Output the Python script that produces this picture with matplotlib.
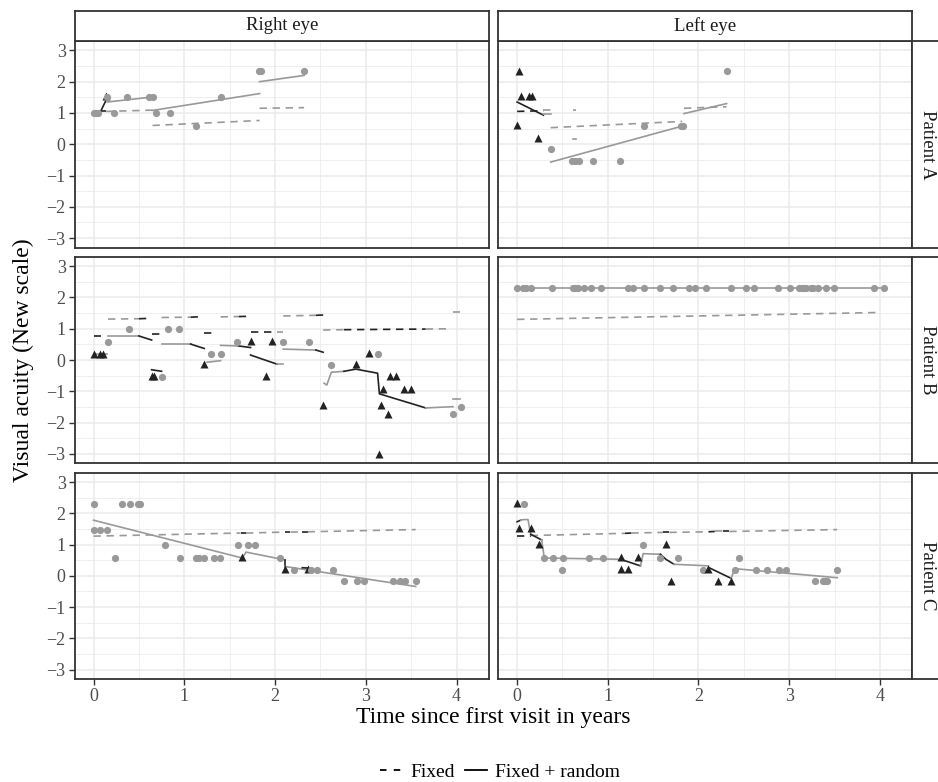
import matplotlib.pyplot as plt
from matplotlib.lines import Line2D

plt.rcParams['font.family'] = ['Liberation Serif', 'DejaVu Serif']

# ---- data ----
# points: (years since first visit, visual acuity, kind)  c = circle (grey), t = triangle (black)
pts_a_right = [(0.00, 1.0, 'c'), (0.03, 1.0, 'c'), (0.05, 1.0, 'c'), (0.14, 1.55, 't'), (0.15, 1.5, 'c'),
               (0.23, 1.0, 'c'), (0.37, 1.5, 'c'), (0.61, 1.5, 'c'), (0.65, 1.5, 'c'), (0.69, 1.0, 'c'),
               (0.84, 1.0, 'c'), (1.13, 0.58, 'c'), (1.40, 1.5, 'c'), (1.82, 2.33, 'c'), (1.84, 2.33, 'c'),
               (2.32, 2.33, 'c')]
pts_a_left = [(0.00, 0.6, 't'), (0.02, 2.33, 't'), (0.04, 1.55, 't'), (0.13, 1.55, 't'), (0.16, 1.55, 't'),
              (0.23, 0.2, 't'), (0.37, -0.15, 'c'), (0.61, -0.55, 'c'), (0.64, -0.55, 'c'), (0.68, -0.55, 'c'),
              (0.84, -0.55, 'c'), (1.13, -0.55, 'c'), (1.40, 0.58, 'c'), (1.81, 0.58, 'c'), (1.83, 0.58, 'c'),
              (2.31, 2.33, 'c')]
pts_b_right = [(0.00, 0.2, 't'), (0.07, 0.2, 't'), (0.10, 0.2, 't'), (0.16, 0.58, 'c'), (0.39, 1.0, 'c'),
               (0.64, -0.51, 't'), (0.67, -0.51, 't'), (0.75, -0.53, 'c'), (0.82, 1.0, 'c'), (0.94, 1.0, 'c'),
               (1.22, -0.13, 't'), (1.29, 0.2, 'c'), (1.40, 0.2, 'c'), (1.58, 0.58, 'c'), (1.73, 0.6, 't'),
               (1.90, -0.51, 't'), (1.97, 0.6, 't'), (2.09, 0.58, 'c'), (2.37, 0.58, 'c'), (2.53, -1.45, 't'),
               (2.62, -0.15, 'c'), (2.89, -0.13, 't'), (3.03, 0.23, 't'), (3.13, 0.2, 'c'), (3.15, -3.0, 't'),
               (3.17, -1.45, 't'), (3.19, -0.92, 't'), (3.25, -1.72, 't'), (3.27, -0.51, 't'), (3.33, -0.51, 't'),
               (3.42, -0.92, 't'), (3.50, -0.92, 't'), (3.96, -1.74, 'c'), (4.05, -1.49, 'c')]
b_left_t = [0.00, 0.07, 0.10, 0.15, 0.38, 0.62, 0.64, 0.67, 0.74, 0.82, 0.93, 1.22, 1.28, 1.40, 1.57, 1.72,
            1.89, 1.96, 2.08, 2.36, 2.52, 2.61, 2.88, 3.01, 3.11, 3.14, 3.16, 3.19, 3.24, 3.26, 3.32, 3.41,
            3.49, 3.94, 4.04]
pts_b_left = [(t, 2.3, 'c') for t in b_left_t]
pts_c_right = [(0.00, 2.29, 'c'), (0.01, 1.48, 'c'), (0.07, 1.48, 'c'), (0.15, 1.48, 'c'), (0.24, 0.57, 'c'),
               (0.31, 2.29, 'c'), (0.40, 2.29, 'c'), (0.49, 2.29, 'c'), (0.51, 2.29, 'c'), (0.79, 0.99, 'c'),
               (0.95, 0.57, 'c'), (1.13, 0.57, 'c'), (1.16, 0.57, 'c'), (1.22, 0.57, 'c'), (1.33, 0.57, 'c'),
               (1.39, 0.57, 'c'), (1.59, 0.99, 'c'), (1.64, 0.59, 't'), (1.70, 0.99, 'c'), (1.78, 0.99, 'c'),
               (2.06, 0.57, 'c'), (2.11, 0.23, 't'), (2.21, 0.19, 'c'), (2.36, 0.23, 't'), (2.40, 0.19, 'c'),
               (2.46, 0.19, 'c'), (2.64, 0.19, 'c'), (2.76, -0.16, 'c'), (2.90, -0.16, 'c'), (2.98, -0.16, 'c'),
               (3.30, -0.16, 'c'), (3.38, -0.16, 'c'), (3.43, -0.16, 'c'), (3.55, -0.16, 'c')]
pts_c_left = [(0.00, 2.33, 't'), (0.02, 1.54, 't'), (0.08, 2.29, 'c'), (0.15, 1.54, 't'), (0.24, 1.02, 't'),
              (0.30, 0.57, 'c'), (0.40, 0.57, 'c'), (0.49, 0.19, 'c'), (0.51, 0.57, 'c'), (0.79, 0.57, 'c'),
              (0.95, 0.57, 'c'), (1.14, 0.59, 't'), (1.15, 0.21, 't'), (1.22, 0.21, 't'), (1.33, 0.59, 't'),
              (1.39, 0.99, 'c'), (1.58, 0.57, 'c'), (1.64, 1.02, 't'), (1.70, -0.15, 't'), (1.77, 0.57, 'c'),
              (2.05, 0.19, 'c'), (2.11, 0.23, 't'), (2.21, -0.15, 't'), (2.36, -0.15, 't'), (2.40, 0.19, 'c'),
              (2.45, 0.57, 'c'), (2.63, 0.19, 'c'), (2.76, 0.19, 'c'), (2.89, 0.19, 'c'), (2.97, 0.19, 'c'),
              (3.29, -0.15, 'c'), (3.37, -0.15, 'c'), (3.40, -0.15, 'c'), (3.42, -0.15, 'c'), (3.53, 0.19, 'c')]

# fitted pieces: (colour group, times, acuity)  g = grey, k = black
fix_a_right = [('k', [0.08, 0.14], [1.05, 1.05]), ('g', [0.14, 0.65], [1.05, 1.09]),
               ('g', [0.65, 1.83], [0.60, 0.76]), ('g', [1.83, 2.32], [1.15, 1.17])]
fr_a_right = [('k', [0.08, 0.14], [1.06, 1.42]), ('g', [0.15, 0.65], [1.35, 1.51]),
              ('g', [0.65, 1.83], [1.08, 1.62]), ('g', [1.83, 2.32], [2.00, 2.20])]
fix_a_left = [('k', [0.00, 0.29], [1.05, 1.07]), ('g', [0.29, 0.37], [1.08, 1.08]),
              ('g', [0.37, 1.82], [0.53, 0.73]), ('g', [0.62, 0.65], [1.09, 1.09]),
              ('g', [1.84, 2.31], [1.15, 1.20])]
fr_a_left = [('k', [0.00, 0.29], [1.35, 0.93]), ('g', [0.29, 0.37], [0.98, 0.98]),
             ('g', [0.37, 1.82], [-0.57, 0.58]), ('g', [0.62, 0.65], [0.16, 0.16]),
             ('g', [1.84, 2.31], [0.98, 1.30])]
fix_b_right = [('k', [0.00, 0.08], [0.77, 0.77]), ('g', [0.16, 0.50], [1.31, 1.32]),
               ('k', [0.50, 0.59], [1.32, 1.33]), ('k', [0.64, 0.75], [0.82, 0.82]),
               ('g', [0.75, 1.07], [1.36, 1.37]), ('k', [1.07, 1.15], [1.37, 1.38]),
               ('k', [1.22, 1.33], [0.86, 0.86]), ('g', [1.40, 1.60], [1.38, 1.39]),
               ('k', [1.60, 1.73], [1.39, 1.40]), ('k', [1.73, 2.02], [0.91, 0.91]),
               ('g', [2.02, 2.09], [0.91, 0.91]), ('g', [2.09, 2.45], [1.41, 1.43]),
               ('k', [2.45, 2.53], [1.43, 1.44]), ('g', [2.53, 2.76], [0.96, 0.97]),
               ('k', [2.76, 3.66], [0.97, 0.99]), ('g', [3.66, 3.90], [0.99, 1.00]),
               ('g', [3.96, 4.04], [1.54, 1.54])]
fr_b_right = [('g', [0.00, 0.15], [0.19, 0.19]), ('g', [0.16, 0.50], [0.77, 0.77]),
              ('k', [0.50, 0.64], [0.77, 0.64]), ('k', [0.64, 0.75], [-0.31, -0.36]),
              ('g', [0.75, 1.07], [0.51, 0.51]), ('k', [1.07, 1.22], [0.51, 0.37]),
              ('g', [1.25, 1.40], [-0.07, -0.02]), ('g', [1.40, 1.60], [0.47, 0.45]),
              ('k', [1.60, 1.73], [0.45, 0.40]), ('k', [1.73, 2.02], [0.16, -0.13]),
              ('g', [2.02, 2.09], [-0.13, -0.13]), ('g', [2.09, 2.45], [0.35, 0.32]),
              ('k', [2.45, 2.53], [0.32, 0.25]),
              ('g', [2.54, 2.57, 2.62, 2.76], [-0.74, -0.80, -0.39, -0.36]),
              ('k', [2.76, 2.89, 3.13, 3.15, 3.66], [-0.36, -0.29, -0.42, -1.08, -1.53]),
              ('g', [3.66, 3.96], [-1.53, -1.49]), ('g', [3.96, 4.04], [-1.25, -1.25])]
fix_b_left = [('g', [0.00, 4.00], [1.30, 1.52])]
fr_b_left = [('g', [0.00, 4.04], [2.30, 2.30])]
fix_c_right = [('g', [0.00, 1.62], [1.27, 1.37]), ('k', [1.62, 1.68], [1.37, 1.37]),
               ('g', [1.68, 2.11], [1.37, 1.40]), ('k', [2.11, 2.17], [1.40, 1.40]),
               ('g', [2.17, 2.30], [1.40, 1.41]), ('k', [2.30, 2.36], [1.41, 1.41]),
               ('g', [2.36, 3.55], [1.41, 1.48])]
fr_c_right = [('g', [0.00, 1.64], [1.78, 0.57]), ('g', [1.64, 1.68, 2.11], [0.57, 0.76, 0.51]),
              ('k', [2.11, 2.11], [0.51, 0.28]), ('g', [2.11, 3.55], [0.30, -0.34]),
              ('k', [2.30, 2.36], [0.26, 0.25])]
fix_c_left = [('k', [0.00, 0.15], [1.29, 1.29]), ('g', [0.15, 1.19], [1.29, 1.36]),
              ('k', [1.19, 1.26], [1.36, 1.37]), ('g', [1.26, 1.61], [1.37, 1.39]),
              ('k', [1.61, 1.68], [1.39, 1.39]), ('g', [1.68, 2.11], [1.39, 1.41]),
              ('k', [2.11, 2.18], [1.41, 1.42]), ('g', [2.18, 2.27], [1.42, 1.42]),
              ('k', [2.27, 2.34], [1.42, 1.42]), ('g', [2.34, 3.53], [1.42, 1.48])]
fr_c_left = [('k', [0.00, 0.04], [1.73, 1.78]), ('g', [0.04, 0.07, 0.12, 0.15], [1.78, 1.80, 1.80, 1.33]),
             ('k', [0.15, 0.27], [1.33, 1.15]), ('g', [0.27, 0.30, 1.14], [1.15, 0.57, 0.53]),
             ('k', [1.14, 1.36], [0.53, 0.32]), ('g', [1.36, 1.39, 1.58], [0.32, 0.71, 0.69]),
             ('k', [1.58, 1.64, 1.73], [0.69, 0.53, 0.37]), ('g', [1.73, 2.11], [0.37, 0.32]),
             ('k', [2.11, 2.36], [0.27, -0.08]), ('g', [2.36, 2.40, 3.53], [-0.08, 0.23, -0.06])]

patients = ['Patient A', 'Patient B', 'Patient C']
eyes = ['Right eye', 'Left eye']
panels = {
    (0, 0): (pts_a_right, fix_a_right, fr_a_right), (0, 1): (pts_a_left, fix_a_left, fr_a_left),
    (1, 0): (pts_b_right, fix_b_right, fr_b_right), (1, 1): (pts_b_left, fix_b_left, fr_b_left),
    (2, 0): (pts_c_right, fix_c_right, fr_c_right), (2, 1): (pts_c_left, fix_c_left, fr_c_left),
}

GREY = '#999999'
BLACK = '#222222'
colour = {'g': GREY, 'k': BLACK}

W, H = 938, 782
fig = plt.figure(figsize=(W / 100, H / 100), dpi=100)


def box(x0, y0, x1, y1):
    return [x0 / W, 1 - y1 / H, (x1 - x0) / W, (y1 - y0) / H]


col_px = [(74.7, 489.0), (498.3, 912.3)]
row_px = [(41.0, 247.5), (256.8, 463.3), (472.7, 679.0)]

for (r, c), (pts, fixed, fr) in panels.items():
    x0, x1 = col_px[c]
    y0, y1 = row_px[r]
    ax = fig.add_axes(box(x0, y0, x1, y1))
    ax.set_xlim(-0.2075, 4.3575)
    ax.set_ylim(-3.3, 3.3)
    ax.set_xticks(range(5))
    ax.set_xticks([0.5, 1.5, 2.5, 3.5], minor=True)
    ax.set_yticks(range(-3, 4))
    ax.set_yticks([-2.5, -1.5, -0.5, 0.5, 1.5, 2.5], minor=True)
    ax.grid(True, which='major', color='#EBEBEB', lw=1.1)
    ax.grid(True, which='minor', color='#EBEBEB', lw=0.55)
    ax.set_axisbelow(True)
    for s in ax.spines.values():
        s.set_color('#333333')
        s.set_linewidth(1.3)
    ax.tick_params(which='minor', length=0)
    ax.tick_params(which='major', length=4.5, width=1.0, color='#333333',
                   labelsize=13, labelcolor='#4D4D4D', pad=2)
    if c != 0:
        ax.tick_params(axis='y', labelleft=False, length=0)
    if r != 2:
        ax.tick_params(axis='x', labelbottom=False, length=0)

    for g, ts, vs in fixed:
        ax.plot(ts, vs, color=colour[g], lw=1.2, dashes=(4.4, 3.4), solid_capstyle='butt', zorder=2)
    for g, ts, vs in fr:
        ax.plot(ts, vs, color=colour[g], lw=1.2, zorder=2)

    # points drawn in time order, so later visits sit on top
    for i, (t, v, k) in enumerate(sorted(pts, key=lambda p: p[0])):
        if k == 'c':
            ax.plot(t, v, 'o', ms=5.2, color=GREY, mec='none', zorder=3 + i * 0.001)
        else:
            ax.plot(t, v, '^', ms=6.2, color=BLACK, mec='none', zorder=3 + i * 0.001)

# strips
for c, name in enumerate(eyes):
    x0, x1 = col_px[c]
    sa = fig.add_axes(box(x0, 10.7, x1, 40.7))
    sa.set_xticks([])
    sa.set_yticks([])
    for s in sa.spines.values():
        s.set_color('#333333')
        s.set_linewidth(1.3)
    sa.text(0.5, 0.5, name, ha='center', va='center', fontsize=13.5, color='#1A1A1A',
            transform=sa.transAxes)

for r, name in enumerate(patients):
    y0, y1 = row_px[r]
    sa = fig.add_axes(box(912.3, y0, 942.3, y1))
    sa.set_xticks([])
    sa.set_yticks([])
    for s in sa.spines.values():
        s.set_color('#333333')
        s.set_linewidth(1.3)
    sa.text(0.5, 0.5, name, ha='center', va='center', rotation=-90, fontsize=13.5,
            color='#1A1A1A', transform=sa.transAxes)

fig.text(493 / W, 1 - 718 / H, 'Time since first visit in years', ha='center', va='center',
         fontsize=17, color='black')
fig.text(23 / W, 1 - 360 / H, 'Visual acuity (New scale)', ha='center', va='center',
         rotation=90, fontsize=17, color='black')

handles = [Line2D([], [], color='black', lw=1.3, dashes=(3.6, 4.0)),
           Line2D([], [], color='black', lw=1.3)]
fig.legend(handles, ['Fixed', 'Fixed + random'], loc='center', bbox_to_anchor=(500 / W, 1 - 772 / H),
           ncol=2, frameon=False, fontsize=14, handlelength=1.15, handletextpad=0.4,
           columnspacing=0.5, borderpad=0, borderaxespad=0)

fig.savefig('out.png', dpi=100)
